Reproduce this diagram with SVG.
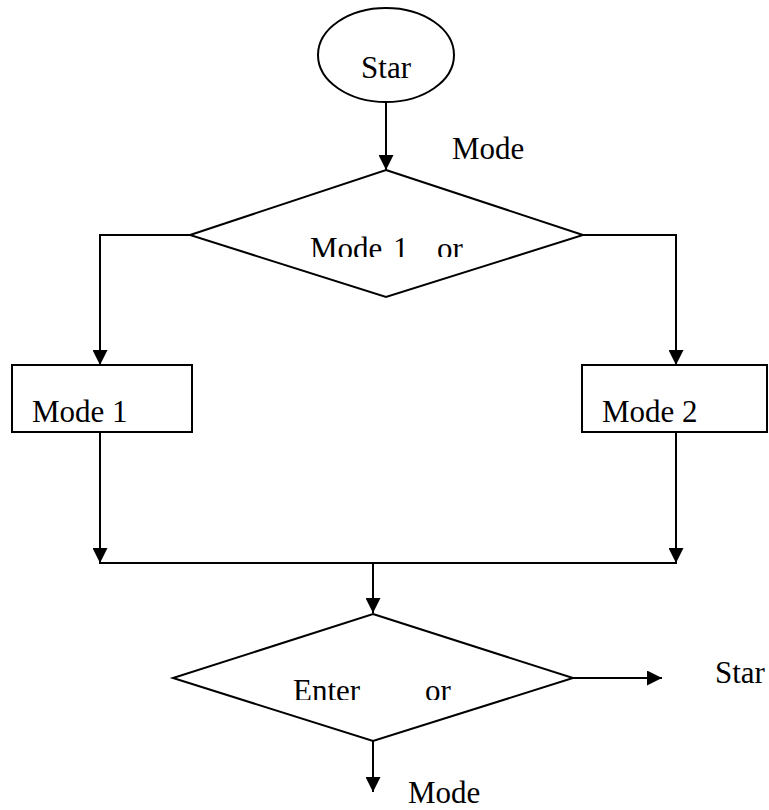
<svg xmlns="http://www.w3.org/2000/svg" width="769" height="810" viewBox="0 0 769 810">
  <style>
    .shape { fill: #ffffff; stroke: #000000; stroke-width: 2; }
    .wire { fill: none; stroke: #000000; stroke-width: 2; }
    .label { font-family: "Liberation Serif", "Times New Roman", Times, "DejaVu Serif", serif; font-size: 31px; fill: #000000; }
  </style>
  <defs>
    <marker id="arrow" markerUnits="userSpaceOnUse" markerWidth="15" markerHeight="15" refX="15" refY="7.5" orient="auto">
      <path d="M0,0 L15,7.5 L0,15 Z" fill="#000000"/>
    </marker>
    <clipPath id="clip-choice"><rect x="0" y="0" width="769" height="257"/></clipPath>
    <clipPath id="clip-enter"><rect x="0" y="0" width="769" height="700"/></clipPath>
  </defs>

  <rect width="769" height="810" fill="#ffffff"/>

  <g id="connectors">
    <line class="wire" x1="386" y1="102" x2="386" y2="170" marker-end="url(#arrow)"/>
    <polyline class="wire" points="190,235 100,235 100,365" marker-end="url(#arrow)"/>
    <polyline class="wire" points="583,235 676,235 676,365" marker-end="url(#arrow)"/>
    <line class="wire" x1="100" y1="432" x2="100" y2="563" marker-end="url(#arrow)"/>
    <line class="wire" x1="676" y1="432" x2="676" y2="563" marker-end="url(#arrow)"/>
    <line class="wire" x1="99" y1="563" x2="677" y2="563"/>
    <line class="wire" x1="373" y1="563" x2="373" y2="613" marker-end="url(#arrow)"/>
    <line class="wire" x1="573" y1="678" x2="662" y2="678" marker-end="url(#arrow)"/>
    <line class="wire" x1="373" y1="741" x2="373" y2="792" marker-end="url(#arrow)"/>
  </g>

  <g id="start">
    <ellipse class="shape" cx="386" cy="55" rx="68" ry="47"/>
    <text class="label" x="386" y="78" text-anchor="middle">Star</text>
  </g>

  <text id="start-out-label" class="label" x="452" y="159">Mode</text>

  <g id="choose-mode">
    <polygon class="shape" points="386,170 583,235 386,297 190,235"/>
    <g clip-path="url(#clip-choice)">
      <text class="label" x="310" y="259">Mode</text>
      <text class="label" x="393" y="259">1</text>
      <text class="label" x="437" y="259">or</text>
    </g>
  </g>

  <g id="mode-1">
    <rect class="shape" x="12" y="365" width="180" height="67"/>
    <text class="label" x="32" y="422">Mode 1</text>
  </g>

  <g id="mode-2">
    <rect class="shape" x="582" y="365" width="185" height="67"/>
    <text class="label" x="602" y="422">Mode 2</text>
  </g>

  <g id="enter-choice">
    <polygon class="shape" points="373,614 573,678 373,741 173,678"/>
    <g clip-path="url(#clip-enter)">
      <text class="label" x="293" y="701">Enter</text>
      <text class="label" x="425" y="701">or</text>
    </g>
  </g>

  <text id="restart-label" class="label" x="715" y="683">Star</text>
  <text id="mode-out-label" class="label" x="408" y="803">Mode</text>
</svg>
